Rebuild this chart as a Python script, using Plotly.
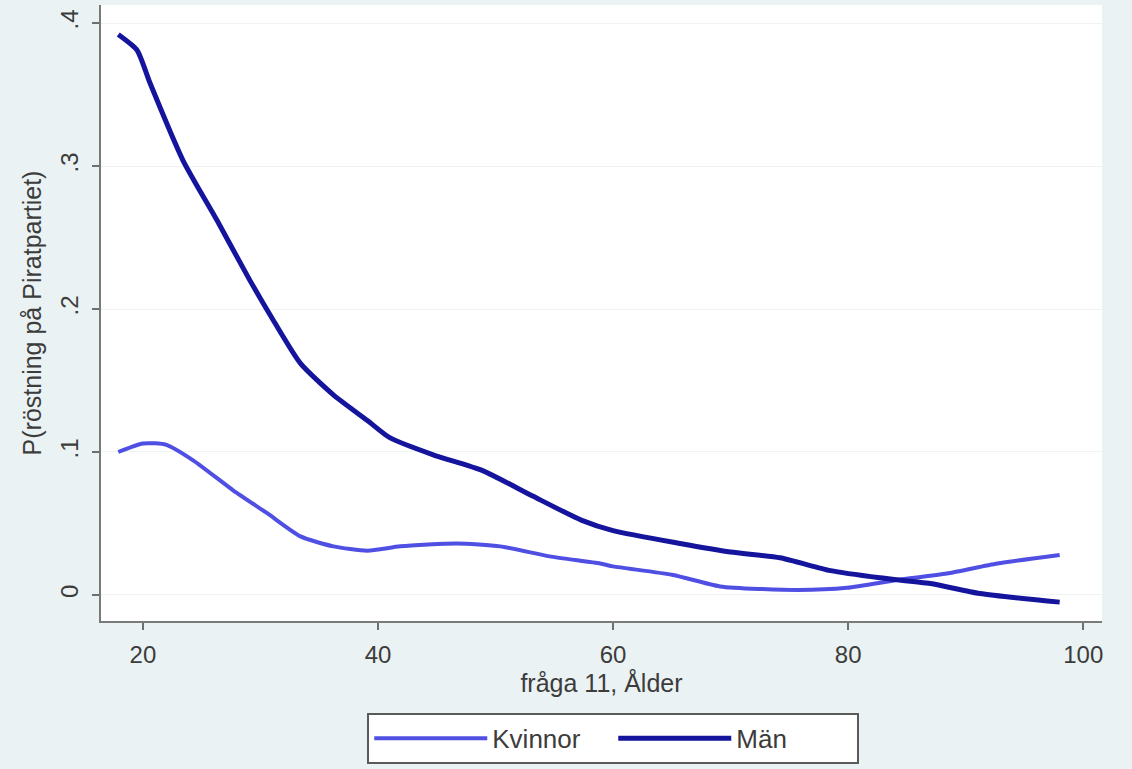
import plotly.graph_objects as go

# Data (age vs. predicted probability)
men_age = [17.9, 19.5, 20.6, 23.4, 26.3, 29.1, 31.1, 33.4, 36.2, 39.1, 41.0, 44.7, 48.9,
           53.2, 57.4, 60.0, 65.7, 70.0, 74.2, 78.5, 82.7, 87.0, 91.2, 98.0]
men_p = [0.392, 0.381, 0.358, 0.304, 0.262, 0.220, 0.192, 0.162, 0.140, 0.122, 0.110, 0.098,
         0.087, 0.069, 0.052, 0.045, 0.036, 0.030, 0.026, 0.017, 0.012, 0.008, 0.001, -0.005]

women_age = [17.9, 20.0, 22.0, 24.3, 27.7, 30.6, 33.4, 36.2, 39.1, 41.9, 46.7, 50.4, 54.6,
             58.9, 60.0, 65.1, 69.1, 75.7, 79.9, 84.2, 88.4, 92.7, 98.0]
women_p = [0.100, 0.106, 0.105, 0.094, 0.073, 0.057, 0.041, 0.034, 0.031, 0.034, 0.036, 0.034,
           0.027, 0.022, 0.020, 0.014, 0.006, 0.0035, 0.005, 0.0105, 0.015, 0.022, 0.028]

x_ticks = [20, 40, 60, 80, 100]
y_ticks = [0, 0.1, 0.2, 0.3, 0.4]
y_ticklabels = ["0", ".1", ".2", ".3", ".4"]

FONT = "Liberation Sans, Arial, sans-serif"
TXT = "#3c3c3c"

fig = go.Figure()
fig.add_trace(go.Scatter(x=women_age, y=women_p, mode="lines", name="Kvinnor",
                         line=dict(color="#4f4fe3", width=4, shape="spline", smoothing=0.6)))
fig.add_trace(go.Scatter(x=men_age, y=men_p, mode="lines", name="Män",
                         line=dict(color="#14149c", width=5, shape="spline", smoothing=0.6)))

fig.update_layout(
    width=1132, height=769,
    margin=dict(l=101, r=30, t=5, b=148),
    paper_bgcolor="#eaf2f3",
    plot_bgcolor="#ffffff",
    font=dict(family=FONT, size=24, color=TXT),
    showlegend=True,
    legend=dict(orientation="h", x=0.266, xanchor="left", y=-0.149, yanchor="top",
                bgcolor="#ffffff", bordercolor="#5a5a5a", borderwidth=2,
                font=dict(family=FONT, size=26, color=TXT),
                itemwidth=113, entrywidth=116, tracegroupgap=0),
    xaxis=dict(range=[16.43, 101.6], tickvals=x_ticks, ticks="outside", ticklen=7,
               tickcolor="#6e6e6e", tickwidth=1.5, showline=True, linecolor="#7a7a7a",
               linewidth=2, showgrid=False, zeroline=False, ticklabelstandoff=4,
               tickfont=dict(family=FONT, size=24, color=TXT),
               title=dict(text="fråga 11, Ålder", standoff=3,
                          font=dict(family=FONT, size=25, color=TXT))),
    yaxis=dict(range=[-0.0182, 0.4126], tickvals=y_ticks, ticktext=y_ticklabels,
               tickangle=-90, ticks="outside", ticklen=7, tickcolor="#6e6e6e",
               tickwidth=1.5, showline=True, linecolor="#7a7a7a", linewidth=2,
               showgrid=True, gridcolor="#eef3f4", gridwidth=1, zeroline=False,
               ticklabelstandoff=4,
               tickfont=dict(family=FONT, size=24, color=TXT),
               title=dict(text="P(röstning på Piratpartiet)", standoff=8,
                          font=dict(family=FONT, size=25, color=TXT))),
)

fig.write_html("out.html", config={"displayModeBar": False},
               post_script="document.body.style.margin='0';"
                           "document.body.style.background='#eaf2f3';")
